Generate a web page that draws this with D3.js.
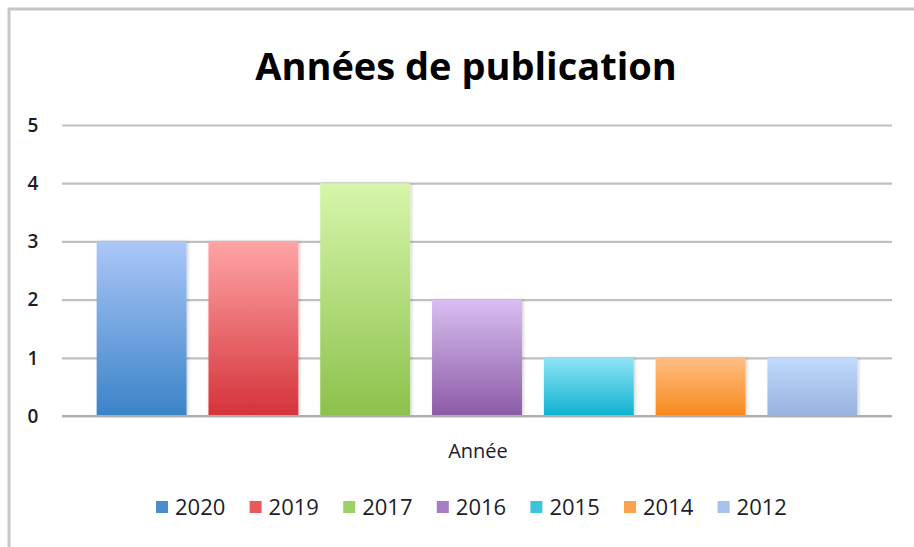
<!DOCTYPE html>
<html>
<head>
<meta charset="utf-8">
<script src="https://cdn.jsdelivr.net/npm/d3@7"></script>
<style>
  html, body { margin: 0; padding: 0; background: #fff; }
  svg text { font-family: "Open Sans", "Noto Sans", sans-serif; }
</style>
</head>
<body>
<div id="chart"></div>
<script>
// Années de publication — one category, one bar per year (Excel style)
const years = ['2020', '2019', '2017', '2016', '2015', '2014', '2012'];
const counts = [3, 3, 4, 2, 1, 1, 1];
const yTicks = [0, 1, 2, 3, 4, 5];
// gradient ends (top, bottom) and legend swatch colour per year
const topColors = ['#abc7f7', '#ffa4a6', '#d6f6aa', '#d9bef0', '#90e4f7', '#ffbe84', '#c1d9fd'];
const bottomColors = ['#3a83c8', '#d4333a', '#8cc14c', '#8b5aa7', '#0db1cf', '#f7881a', '#97b2df'];
const swatchColors = ['#4b8cd0', '#e8585d', '#9ed069', '#a67cc4', '#3cc4dc', '#fba152', '#a7c1ec'];

const W = 914, H = 547;
const svg = d3.select('#chart').append('svg')
  .attr('width', W)
  .attr('height', H);

const defs = svg.append('defs');
years.forEach((yr, i) => {
  const lg = defs.append('linearGradient')
    .attr('id', `grad${yr}`)
    .attr('x1', 0).attr('y1', 0).attr('x2', 0).attr('y2', 1);
  lg.append('stop').attr('offset', '0%').attr('stop-color', topColors[i]);
  lg.append('stop').attr('offset', '100%').attr('stop-color', bottomColors[i]);
});
const shadow = defs.append('filter').attr('id', 'shadow')
  .attr('x', '-10%').attr('y', '-10%').attr('width', '130%').attr('height', '120%');
shadow.append('feDropShadow')
  .attr('dx', 1.5).attr('dy', 0).attr('stdDeviation', 1.5)
  .attr('flood-color', '#000').attr('flood-opacity', 0.18);

// frame (only the top and left edges are visible)
svg.append('rect')
  .attr('x', 9).attr('y', 9)
  .attr('width', 1000).attr('height', 1000)
  .attr('fill', 'none')
  .attr('stroke', '#c6c6c6')
  .attr('stroke-width', 3);

const plot = { left: 62, right: 892, top: 125, bottom: 416 };

const x = d3.scaleBand()
  .domain(years)
  .range([plot.left, plot.right])
  .paddingInner(0.196)
  .paddingOuter(0.31);

const y = d3.scaleLinear()
  .domain([0, 5])
  .range([plot.bottom, plot.top]);

// grid
const grid = svg.append('g')
  .attr('transform', `translate(${plot.left},0)`)
  .call(d3.axisLeft(y).tickValues(yTicks).tickSize(-(plot.right - plot.left)).tickFormat(''));
grid.select('.domain').remove();
grid.selectAll('.tick line')
  .attr('stroke', '#c0c0c0')
  .attr('stroke-width', 2.2);

// tick labels
svg.append('g')
  .selectAll('text')
  .data(yTicks)
  .join('text')
  .attr('x', 33)
  .attr('y', d => y(d))
  .attr('dy', '0.36em')
  .attr('text-anchor', 'middle')
  .attr('font-size', 19)
  .attr('font-weight', 600)
  .attr('fill', '#1c1c2a')
  .text(d => d);

// bars
svg.append('g')
  .selectAll('rect')
  .data(counts)
  .join('rect')
  .attr('x', (d, i) => x(years[i]))
  .attr('y', d => y(d))
  .attr('width', x.bandwidth())
  .attr('height', d => y(0) - y(d))
  .attr('fill', (d, i) => `url(#grad${years[i]})`)
  .attr('filter', 'url(#shadow)');

// baseline
svg.append('line')
  .attr('x1', plot.left).attr('x2', plot.right)
  .attr('y1', y(0)).attr('y2', y(0))
  .attr('stroke', '#aeaeae')
  .attr('stroke-width', 2.2);

// title
svg.append('text')
  .attr('x', 466)
  .attr('y', 80)
  .attr('text-anchor', 'middle')
  .attr('font-size', 38)
  .attr('font-weight', 700)
  .attr('fill', '#000')
  .text('Années de publication');

// axis title
svg.append('text')
  .attr('x', 478)
  .attr('y', 458)
  .attr('text-anchor', 'middle')
  .attr('font-size', 20)
  .attr('fill', '#1c1c2a')
  .text('Année');

// legend
const legend = svg.append('g');
const item = legend.selectAll('g')
  .data(years)
  .join('g')
  .attr('transform', (d, i) => `translate(${156 + i * 93.6},507)`);
item.append('rect')
  .attr('x', 0).attr('y', -6)
  .attr('width', 12).attr('height', 12)
  .attr('fill', (d, i) => swatchColors[i]);
item.append('text')
  .attr('x', 19)
  .attr('dy', '0.36em')
  .attr('font-size', 22)
  .attr('fill', '#1c1c2a')
  .text(d => d);
</script>
</body>
</html>
